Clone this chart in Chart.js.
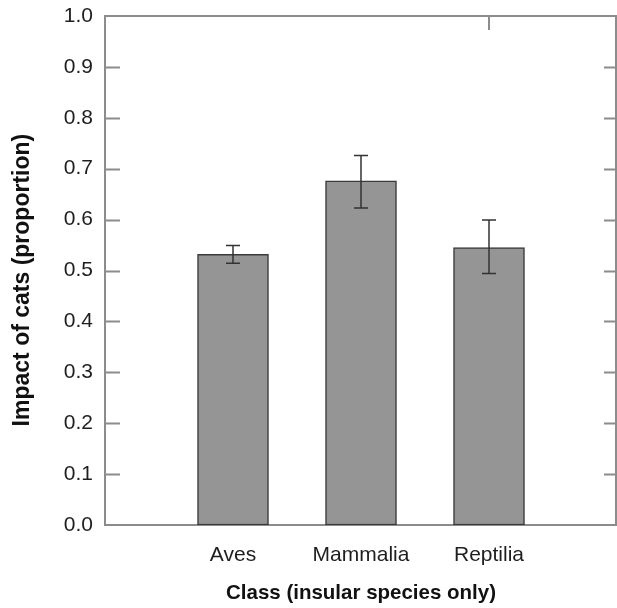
<!DOCTYPE html>
<html>
<head>
<meta charset="utf-8">
<script src="https://cdn.jsdelivr.net/npm/chart.js@4.4.1/dist/chart.umd.min.js"></script>
<style>
  html, body { margin: 0; padding: 0; background: #fff; }
  #wrap { width: 617px; height: 608px; position: relative; }
</style>
</head>
<body>
<div id="wrap"><canvas id="c"></canvas></div>
<script>
/* ── Dati ─────────────────────────────────────── */
var categories = ['Aves', 'Mammalia', 'Reptilia'];
var positions  = [1, 2, 3];
var means      = [0.532, 0.676, 0.545];
var errLow     = [0.514, 0.623, 0.494];
var errHigh    = [0.549, 0.726, 0.599];
var yTicks     = [0, 0.1, 0.2, 0.3, 0.4, 0.5, 0.6, 0.7, 0.8, 0.9, 1.0];

var AXIS_COLOR = '#8c8c8c';
var FONT = '"Liberation Sans", Arial, Helvetica, sans-serif';

/* ── Cornice, tacche interne e barre d'errore ─── */
var framePlugin = {
  id: 'frame',
  afterDatasetsDraw: function(chart) {
    var ctx = chart.ctx, a = chart.chartArea;
    var x = chart.scales.x, y = chart.scales.y;
    ctx.save();

    // error bars
    ctx.strokeStyle = '#333';
    ctx.lineWidth = 1.5;
    positions.forEach(function(p, i) {
      var px = x.getPixelForValue(p);
      var top = y.getPixelForValue(errHigh[i]);
      var bot = y.getPixelForValue(errLow[i]);
      ctx.beginPath();
      ctx.moveTo(px, top); ctx.lineTo(px, bot);
      ctx.moveTo(px - 7, top); ctx.lineTo(px + 7, top);
      ctx.moveTo(px - 7, bot); ctx.lineTo(px + 7, bot);
      ctx.stroke();
    });

    // top and right frame
    ctx.strokeStyle = AXIS_COLOR;
    ctx.lineWidth = 2;
    ctx.beginPath();
    ctx.moveTo(a.left, a.top); ctx.lineTo(a.right, a.top);
    ctx.moveTo(a.right - 1, a.top); ctx.lineTo(a.right - 1, a.bottom);
    ctx.stroke();

    // inward ticks
    ctx.beginPath();
    yTicks.forEach(function(v) {
      if (v <= 0 || v >= 1) return;
      var py = Math.round(y.getPixelForValue(v)) + 0.5;
      ctx.moveTo(a.left, py); ctx.lineTo(a.left + 15, py);
      ctx.moveTo(a.right - 13, py); ctx.lineTo(a.right, py);
    });
    var tx = x.getPixelForValue(positions[2]);
    ctx.moveTo(tx, a.top); ctx.lineTo(tx, a.top + 14);
    ctx.stroke();

    ctx.restore();
  }
};

new Chart(document.getElementById('c'), {
  type: 'bar',
  data: {
    datasets: [{
      data: positions.map(function(p, i) { return { x: p, y: means[i] }; }),
      backgroundColor: '#959595',
      borderColor: '#3a3a3a',
      borderWidth: 1.5,
      borderSkipped: false,
      barThickness: 71,
    }],
  },
  options: {
    responsive: true,
    maintainAspectRatio: false,
    animation: false,
    layout: { padding: { top: 16, right: 0, left: 0, bottom: 0 } },
    plugins: { legend: { display: false }, tooltip: { enabled: false } },
    scales: {
      x: {
        type: 'linear',
        min: 0,
        max: 4,
        offset: false,
        afterFit: function(s) { s.height = 83; s.paddingLeft = 0; s.paddingRight = 0; },
        grid: { display: false, drawTicks: false, offset: false },
        border: { display: true, color: AXIS_COLOR, width: 2 },
        ticks: {
          stepSize: 1,
          padding: 18,
          autoSkip: false,
          maxRotation: 0,
          minRotation: 0,
          color: '#1e1e1e',
          font: { family: FONT, size: 21 },
          callback: function(v) { return categories[positions.indexOf(v)] || ''; },
        },
        title: {
          display: true,
          text: 'Class (insular species only)',
          color: '#111',
          font: { family: FONT, size: 20.5, weight: 'bold' },
          padding: { top: 0, bottom: 2 },
        },
      },
      y: {
        min: 0,
        max: 1,
        afterFit: function(s) { s.width = 105; s.paddingTop = 0; s.paddingBottom = 0; },
        afterBuildTicks: function(s) { s.ticks = yTicks.map(function(v) { return { value: v }; }); },
        grid: { display: false, drawTicks: false },
        border: { display: true, color: AXIS_COLOR, width: 2 },
        ticks: {
          padding: 12,
          color: '#1e1e1e',
          font: { family: FONT, size: 21 },
          callback: function(v) { return v.toFixed(1); },
        },
        title: {
          display: true,
          text: 'Impact of cats (proportion)   ',
          color: '#111',
          font: { family: FONT, size: 23, weight: 'bold' },
          padding: { top: 9, bottom: 0 },
        },
      },
    },
  },
  plugins: [framePlugin],
});
</script>
</body>
</html>
